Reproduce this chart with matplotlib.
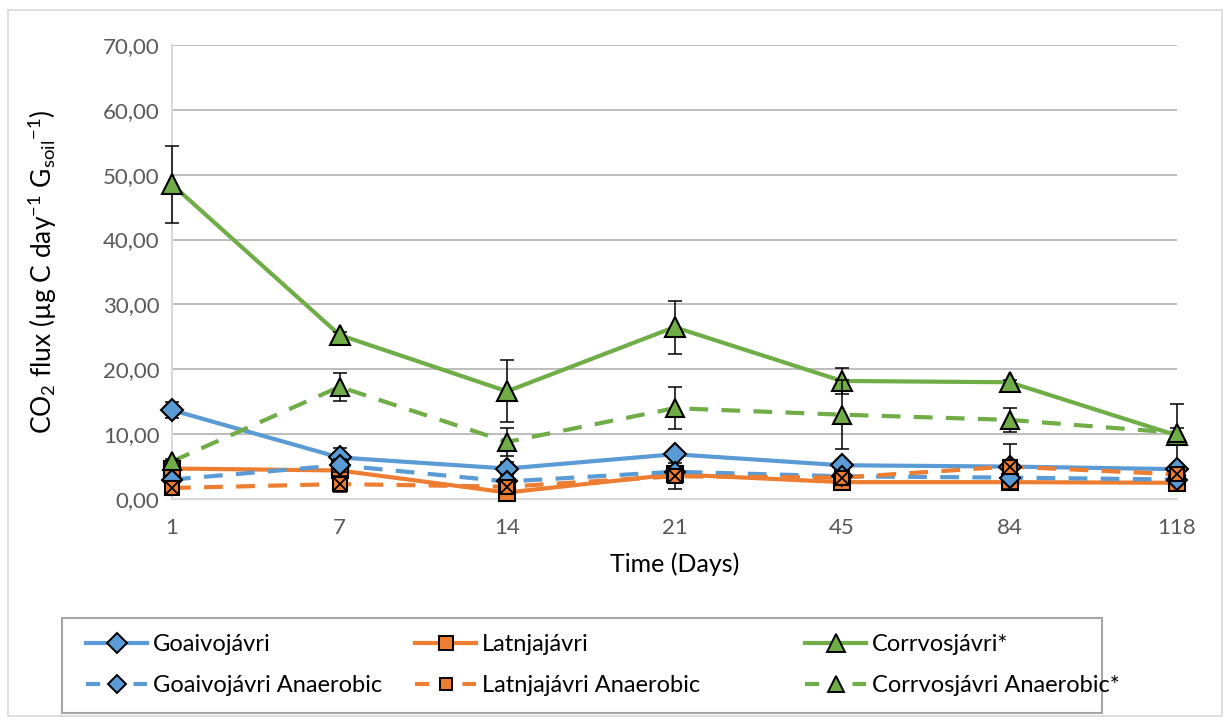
import matplotlib
matplotlib.use("Agg")
import matplotlib.pyplot as plt
from matplotlib.patches import Rectangle
from matplotlib.lines import Line2D

plt.rcParams['font.family'] = ['Lato', 'DejaVu Sans']
plt.rcParams['mathtext.default'] = 'regular'

days = ['1', '7', '14', '21', '45', '84', '118']

goaivo = [13.7, 6.4, 4.7, 6.9, 5.2, 5.0, 4.6]
goaivo_err = [1.2, 1.4, 1.0, 0.6, 0.8, 0.5, 0.5]
latnja = [4.7, 4.4, 1.0, 3.8, 2.6, 2.6, 2.5]
latnja_err = [0.5, 0.6, 0.4, 0.4, 0.3, 0.3, 0.3]
corr = [48.5, 25.3, 16.6, 26.5, 18.2, 18.0, 9.8]
corr_err = [5.9, 0.4, 4.8, 4.1, 2.0, 0.3, 4.9]
goaivo_an = [3.0, 5.2, 2.7, 4.2, 3.5, 3.3, 3.0]
goaivo_an_err = [0.5, 1.0, 0.5, 0.6, 0.5, 0.4, 0.5]
latnja_an = [1.7, 2.3, 1.9, 3.5, 3.3, 5.0, 3.8]
latnja_an_err = [0.3, 1.2, 0.6, 2.0, 0.5, 3.5, 0.5]
corr_an = [5.8, 17.3, 8.8, 14.0, 13.0, 12.2, 10.2]
corr_an_err = [0.4, 2.2, 2.2, 3.2, 5.3, 1.9, 0.8]

labels = ['Goaivojávri', 'Latnjajávri', 'Corrvosjávri*',
          'Goaivojávri Anaerobic', 'Latnjajávri Anaerobic', 'Corrvosjávri Anaerobic*']

BLUE = '#5B9BD5'
ORANGE = '#ED7D31'
GREEN = '#70AD47'

W, H = 1231, 726
fig = plt.figure(figsize=(W / 100, H / 100), dpi=100)
ax = fig.add_axes([172/W, 1 - 499/H, (1177 - 172)/W, (499 - 45)/H])

x = list(range(len(days)))
dash = (0, (4.5, 3.2))
leg_dash = (0, (3.4, 8.0))

series = [
    (goaivo, goaivo_err, BLUE, '-', 'D', 11, 3),
    (latnja, latnja_err, ORANGE, '-', 's', 11, 3),
    (corr, corr_err, GREEN, '-', '^', 14, 3),
    (goaivo_an, goaivo_an_err, BLUE, dash, 'D', 10, 4),
    (latnja_an, latnja_an_err, ORANGE, dash, 's', 10, 4),
    (corr_an, corr_an_err, GREEN, dash, '^', 13, 4),
]

handles = []
for i, (vals, err, col, ls, mk, ms, z) in enumerate(series):
    ax.errorbar(x, vals, yerr=err, fmt='none', ecolor='black', elinewidth=1.1,
                capsize=5, capthick=1.1, zorder=z + 2, clip_on=False)
    ax.plot(x, vals, color=col, linestyle=ls, linewidth=3, zorder=z, clip_on=False)
    ax.plot(x, vals, linestyle='none', marker=mk, markersize=ms, markerfacecolor=col,
            markeredgecolor='black', markeredgewidth=1.5, zorder=z + 3, clip_on=False)
    if i == 4:
        ax.plot(x, vals, linestyle='none', marker='x', markersize=8, markeredgecolor='black',
                markeredgewidth=1.3, zorder=z + 4, clip_on=False)
    h = Line2D([], [], color=col, linestyle=(leg_dash if i >= 3 else '-'), linewidth=3,
               marker=mk, markersize=ms - 1, markerfacecolor=col, markeredgecolor='black',
               markeredgewidth=1.4)
    handles.append(h)

ax.set_xlim(0, len(days) - 1)
ax.set_ylim(0, 70)
ax.set_yticks(range(0, 71, 10))
ax.set_yticklabels([f'{v},00' for v in range(0, 71, 10)])
ax.set_xticks(x)
ax.set_xticklabels(days)
ax.tick_params(axis='both', length=0, labelsize=16, colors='#595959')
ax.tick_params(axis='x', pad=14)
ax.tick_params(axis='y', pad=9)
ax.yaxis.grid(True, color='#ABABAB', linewidth=1.1)
ax.set_axisbelow(True)
for s in ['top', 'right']:
    ax.spines[s].set_visible(False)
ax.spines['left'].set_color('#D9D9D9')
ax.spines['bottom'].set_color('#D9D9D9')
ax.spines['left'].set_linewidth(1.5)
ax.spines['bottom'].set_linewidth(1.5)

ax.set_xlabel('Time (Days)', fontsize=18, labelpad=10)
ax.set_ylabel(r'CO$_{2}$ flux (µg C day$^{-1}$ G$_{soil}$$^{-1}$)', fontsize=19)
ax.yaxis.set_label_coords(-0.112, 0.5)

# legend frame
fig.patches.append(Rectangle((62/W, 1 - 713/H), (1102 - 62)/W, (713 - 618)/H,
                             transform=fig.transFigure, fill=False, edgecolor='#A6A6A6',
                             linewidth=1.5))
# legend columns
col_x = [86, 415, 805]
for c in range(3):
    lg = fig.legend([handles[c], handles[c + 3]], [labels[c], labels[c + 3]],
                    loc='center left', bbox_to_anchor=(col_x[c]/W, 1 - 665/H),
                    fontsize=17, frameon=False, handlelength=2.6, handletextpad=0.25,
                    borderpad=0, borderaxespad=0, labelspacing=0.85)

fig.patches.append(Rectangle((8/W, 1 - 716/H), (1222 - 8)/W, (716 - 10)/H,
                             transform=fig.transFigure, fill=False, edgecolor='#D9D9D9',
                             linewidth=1.2))

fig.savefig('out.png', dpi=100)
